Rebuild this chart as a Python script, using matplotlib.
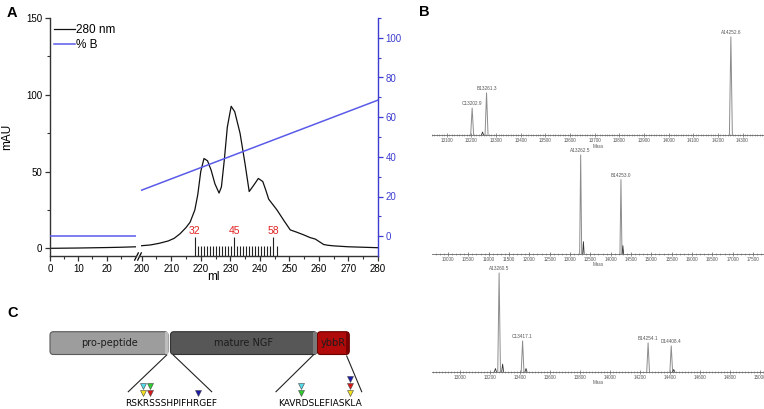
import numpy as np
import matplotlib.pyplot as plt
from matplotlib.patches import FancyBboxPatch, Rectangle
from matplotlib.ticker import MultipleLocator

# ---- panel A: chromatogram ----
a280_x_left = [0, 5, 10, 15, 20, 25, 30.5]
a280_y_left = [0.0, 0.1, 0.2, 0.35, 0.5, 0.7, 1.0]
a280_x = [200, 203, 206, 209, 211, 213, 215, 216.4, 218, 219, 220, 221.1, 222.3, 223.5,
          224.8, 226.2, 227, 228, 229, 230.3, 231.5, 233.3, 235, 236.4, 237.9, 239.5,
          241, 242, 243, 245.8, 248, 250.3, 252.5, 254.8, 257, 258.8, 260, 261.6, 263,
          265, 270, 275, 280]
a280_y = [1.7, 2.2, 3.3, 4.8, 6.5, 9.5, 13.5, 17, 25, 35, 50, 58.5, 57, 51,
          42, 36, 40, 58, 79, 92.5, 89, 75, 55, 37, 41, 45.5,
          43.5, 38, 32, 25, 18.5, 12, 10.5, 8.8, 7, 6, 4.5, 2.5, 2,
          1.6, 1.0, 0.7, 0.4]
pctB_x_left = [0, 30.5]
pctB_y_left = [0, 0]
pctB_x = [200, 280]
pctB_y = [23.2, 68.6]

fractions = list(range(32, 60))
frac_first_ml = 217.9
frac_width_ml = 1.028
frac_labelled = [32, 45, 58]

# ---- panel B: deconvoluted mass spectra ----
s1_mass = [13202.9, 13261.3, 14252.6]
s1_int = [27.5, 43, 100]
s1_lab = ['C13202.9', 'B13261.3', 'A14252.6']
s1_minor_mass = [13245]
s1_minor_int = [3]
s1_ticks = list(range(13100, 14400, 100))

s2_mass = [13262.5, 14253.0]
s2_int = [100, 75]
s2_lab = ['A13262.5', 'B14253.0']
s2_minor_mass = [13330, 14300]
s2_minor_int = [12, 8]
s2_ticks = list(range(10000, 18000, 500))

s3_mass = [13260.5, 13417.1, 14254.1, 14408.4]
s3_int = [100, 31, 29, 26]
s3_lab = ['A13260.5', 'C13417.1', 'B14254.1', 'D14408.4']
s3_minor_mass = [13236, 13284, 13440, 14425]
s3_minor_int = [3, 7.5, 3, 2]
s3_ticks = list(range(13000, 15200, 200))

# ---- panel C: construct ----
domains = ['pro-peptide', 'mature NGF', 'ybbR']
dom_start = [50, 170.5, 317.3]
dom_end = [168, 317, 349.3]
dom_colors = ['#9d9d9d', '#575757', '#b00a0a']
seq1 = 'RSKRSSSHPIFHRGEF'
seq2 = 'KAVRDSLEFIASKLA'
site_x = [143.3, 149.7, 143.3, 149.7, 198.3, 301, 301, 349.7, 349.7, 349.7]
site_level = [1, 1, 0, 0, 0, 1, 0, 2, 1, 0]
site_color = ['#55dbe8', '#2fcf2f', '#f2e21e', '#d81818', '#1a1aa8',
              '#55dbe8', '#2fcf2f', '#1a1aa8', '#d81818', '#f2e21e']

W, H = 764, 409
fig = plt.figure(figsize=(W / 100, H / 100), dpi=100)
plt.rcParams['font.family'] = ['Liberation Sans', 'DejaVu Sans']


def px_axes(left, top, right, bottom):
    return fig.add_axes([left / W, 1 - bottom / H, (right - left) / W, (bottom - top) / H])


axis_col = '#333333'
blue_line = '#5a5aea'
blue_axis = '#3c3cd0'

ax1 = px_axes(50, 18, 136.3, 256)
ax2 = px_axes(138.7, 18, 378, 256)
ax1r = ax1.twinx()
ax2r = ax2.twinx()
for ax in (ax1, ax2):
    ax.set_ylim(-5, 150)
    ax.patch.set_alpha(0)
    ax.spines['top'].set_visible(False)
    ax.spines['right'].set_visible(False)
    for s in ax.spines.values():
        s.set_color(axis_col)
        s.set_linewidth(1.0)
    ax.tick_params(which='major', direction='out', length=3.5, width=0.9, color=axis_col,
                   labelsize=7, pad=2)
    ax.tick_params(which='minor', direction='out', length=2, width=0.8, color=axis_col)
ax1.set_xlim(0, 30.5)
ax2.set_xlim(199, 280)
ax1.set_xticks([0, 10, 20])
ax1.set_xticks([5, 15, 25], minor=True)
ax2.set_xticks(list(range(200, 281, 10)))
ax2.set_xticks(list(range(205, 280, 10)), minor=True)
ax1.set_yticks([0, 50, 100, 150])
ax1.set_yticks([25, 75, 125], minor=True)
ax1.tick_params(axis='y', which='both', right=False)
ax2.spines['left'].set_visible(False)
ax2.tick_params(axis='y', which='both', left=False, right=False, labelleft=False,
                labelright=False)

ax1r.set_ylim(-10, 110)
ax1r.axis('off')
ax2r.set_ylim(-10, 110)
for s in ('left', 'top', 'bottom'):
    ax2r.spines[s].set_visible(False)
ax2r.spines['right'].set_color(blue_axis)
ax2r.spines['right'].set_linewidth(1.0)
ax2r.set_yticks(list(range(0, 101, 20)))
ax2r.set_yticks(list(range(10, 111, 20)), minor=True)
ax2r.tick_params(which='major', direction='out', length=3.5, width=0.9, color=blue_axis,
                 labelcolor=blue_axis, labelsize=7, pad=2)
ax2r.tick_params(which='minor', direction='out', length=2, width=0.8, color=blue_axis)

l280, = ax1.plot(a280_x_left, a280_y_left, color='#111111', lw=0.9)
ax2.plot(a280_x, a280_y, color='#111111', lw=0.9)
lB, = ax1r.plot(pctB_x_left, pctB_y_left, color=blue_line, lw=1.1)
ax2r.plot(pctB_x, pctB_y, color=blue_line, lw=1.1)

frac_pos = [frac_first_ml + (n - 32) * frac_width_ml for n in fractions]
frac_top = [7.2 if n in frac_labelled else 1.7 for n in fractions]
ax2.vlines(frac_pos, -5, frac_top, color='#222222', lw=0.8)
for n, p in zip(fractions, frac_pos):
    if n in frac_labelled:
        ax2.text(p, 7.8, str(n), color='#e02424', ha='center', va='bottom', fontsize=7.5)

# axis break marks
brk = dict(marker=[(-1, -2), (1, 2)], markersize=6, linestyle='none', color='k',
           mec='k', mew=0.9, clip_on=False)
ax1.plot([1], [0], transform=ax1.transAxes, **brk)
ax2.plot([0], [0], transform=ax2.transAxes, **brk)

ax1.set_ylabel('mAU', fontsize=8.5)
ax1.yaxis.set_label_coords((13 - 50) / 86.3, 0.5)
ax2.set_xlabel('ml', fontsize=8.5)
ax2.xaxis.set_label_coords((213 - 138.7) / 239.3, -0.062)

fig.legend([l280, lB], ['280 nm', '% B'], loc='upper left', bbox_to_anchor=(54 / W, 1 - 24 / H),
           frameon=False, fontsize=8.5, handlelength=1.8, handletextpad=0.1,
           borderpad=0, borderaxespad=0, labelspacing=0.25)


# ---- panel B ----
def spectrum(top, bottom, xlim, mass, inten, labels, mmass, minten, halfw, ticks, minor_step):
    ax = px_axes(432, top, 764, bottom)
    ax.set_xlim(*xlim)
    ax.set_ylim(0, 105)
    ax.patch.set_alpha(0)
    for s in ('left', 'right', 'top'):
        ax.spines[s].set_visible(False)
    ax.spines['bottom'].set_color('#666666')
    ax.spines['bottom'].set_linewidth(0.6)
    ax.set_yticks([])
    ax.set_xticks(ticks)
    ax.xaxis.set_minor_locator(MultipleLocator(minor_step))
    ax.tick_params(axis='x', which='major', direction='inout', length=2.5, width=0.5,
                   color='#666666', labelsize=3.3, labelcolor='#555555', pad=1.2)
    ax.tick_params(axis='x', which='minor', direction='inout', length=1.6, width=0.4,
                   color='#777777')
    for m, h, lab in zip(mass, inten, labels):
        ax.plot([m - halfw, m, m + halfw], [0, h, 0], color='#8c8c8c', lw=0.7)
        ax.text(m, h + 2, lab, ha='center', va='bottom', fontsize=3.4, color='#555555',
                clip_on=False)
    for m, h in zip(mmass, minten):
        ax.plot([m - halfw * 0.7, m, m + halfw * 0.7], [0, h, 0], color='#333333', lw=0.6)
    ax.set_xlabel('Mass', fontsize=3.3, color='#555555', labelpad=0.3)
    return ax


spectrum(32, 135, (13040, 14387), s1_mass, s1_int, s1_lab, s1_minor_mass, s1_minor_int,
         6, s1_ticks, 10)
spectrum(150, 253.5, (9607, 17770), s2_mass, s2_int, s2_lab, s2_minor_mass, s2_minor_int,
         25, s2_ticks, 100)
spectrum(268, 371.5, (12813, 15027), s3_mass, s3_int, s3_lab, s3_minor_mass, s3_minor_int,
         9, s3_ticks, 20)

# ---- panel C ----
axc = px_axes(0, 300, 420, 409)
axc.set_xlim(0, 420)
axc.set_ylim(109, 0)
axc.axis('off')
box_top, box_bot = 31.7, 54.5
edge_cols = ['#5a5a5a', '#333333', '#6a0000']
for name, x0, x1, c, ec in zip(domains, dom_start, dom_end, dom_colors, edge_cols):
    axc.add_patch(FancyBboxPatch((x0, box_top), x1 - x0, box_bot - box_top,
                                 boxstyle='round,pad=0,rounding_size=3.5',
                                 fc=c, ec=ec, lw=0.8))
    axc.text((x0 + x1) / 2, (box_top + box_bot) / 2, name, ha='center', va='center',
             fontsize=7, color='#1c1c1c', family='DejaVu Sans')
axc.add_patch(Rectangle((164.5, box_top + 0.5), 3.3, box_bot - box_top - 1, fc='#bdbdbd', ec='none'))
axc.add_patch(Rectangle((313, box_top + 0.5), 3.8, box_bot - box_top - 1, fc='#7a7a7a', ec='none'))
axc.add_patch(Rectangle((346, box_top + 0.5), 3, box_bot - box_top - 1, fc='#7c0000', ec='none'))

for (xa, ya), (xb, yb) in [((166.7, 55), (128.3, 91.7)), ((173.3, 55), (211.7, 91.7)),
                           ((313.3, 55), (276, 91.7)), ((346.7, 56), (361.7, 91.7))]:
    axc.plot([xa, xb], [ya, yb], color='#222222', lw=0.8)

axc.text(125, 106, seq1, ha='left', va='baseline', fontsize=6.5, family='DejaVu Sans')
axc.text(278, 106, seq2, ha='left', va='baseline', fontsize=6.5, family='DejaVu Sans')
level_y = [93.3, 86.3, 79.3]
for x, lv, c in zip(site_x, site_level, site_color):
    axc.plot(x, level_y[lv], marker='v', ms=5, color=c, mec='#444444', mew=0.4)

# panel letters
fig.text(7 / W, 1 - 6 / H, 'A', fontsize=10.5, fontweight='bold', va='top')
fig.text(419 / W, 1 - 5 / H, 'B', fontsize=10.5, fontweight='bold', va='top')
fig.text(7 / W, 1 - 306 / H, 'C', fontsize=10.5, fontweight='bold', va='top')

fig.savefig('out.png', dpi=100)
